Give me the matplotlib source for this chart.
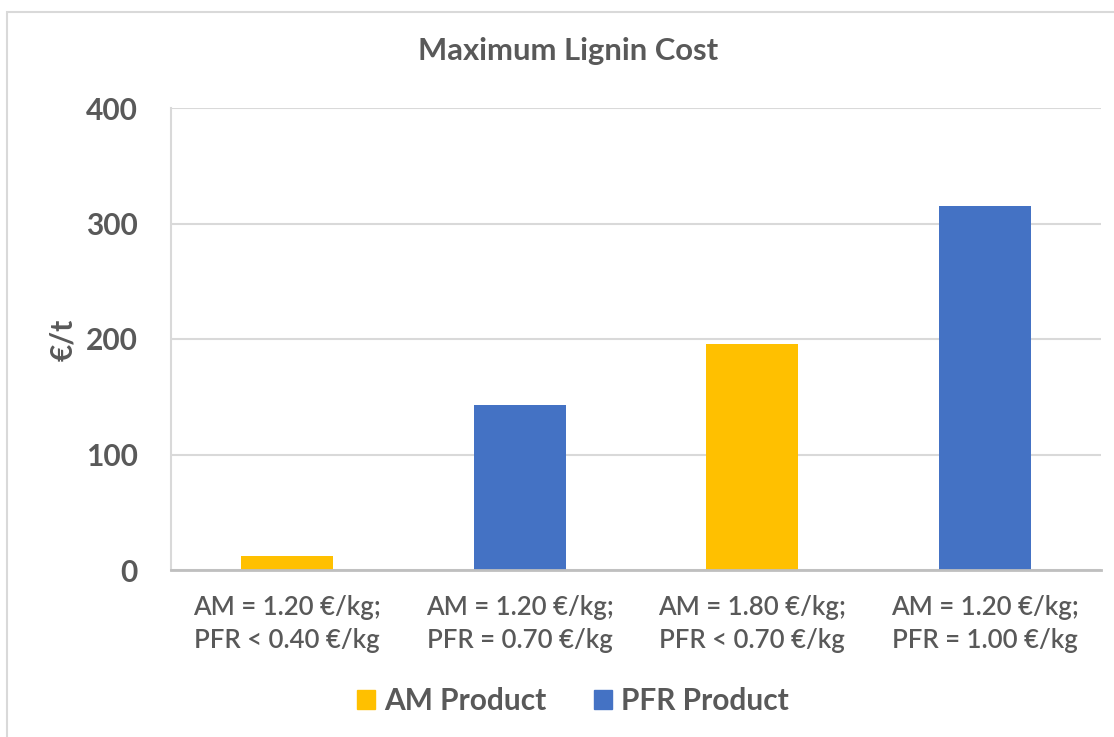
import matplotlib
matplotlib.use("Agg")
import matplotlib.pyplot as plt
from matplotlib.patches import Rectangle
import numpy as np

categories = ["AM = 1.20 €/kg;\nPFR < 0.40 €/kg",
              "AM = 1.20 €/kg;\nPFR = 0.70 €/kg",
              "AM = 1.80 €/kg;\nPFR < 0.70 €/kg",
              "AM = 1.20 €/kg;\nPFR = 1.00 €/kg"]
values = [12, 143, 196, 315]
series = ["AM Product", "PFR Product", "AM Product", "PFR Product"]
series_names = ["AM Product", "PFR Product"]
series_colors = {"AM Product": "#FFC000", "PFR Product": "#4472C4"}
yticks = [0, 100, 200, 300, 400]

TXT = "#595959"
plt.rcParams['font.family'] = ['Lato', 'DejaVu Sans']

fig = plt.figure(figsize=(11.14, 7.37), dpi=100)
# outer chart border
fig.patches.append(Rectangle((7/1114, -0.05), 1.2, (737-12)/737 + 0.05,
                             transform=fig.transFigure, fill=False,
                             edgecolor="#D9D9D9", linewidth=1.5))

ax = fig.add_axes([171/1114, (737-570)/737, (1101-171)/1114, (570-108)/737])
x = np.arange(len(categories))
for xi, v, s in zip(x, values, series):
    ax.bar(xi, v, width=0.395, color=series_colors[s], zorder=3)

ax.set_xlim(-0.5, len(categories) - 0.5)
ax.set_ylim(0, 400)
ax.set_yticks(yticks)
ax.set_yticklabels([str(t) for t in yticks], fontsize=21.5, fontweight='bold', color=TXT)
ax.set_xticks(x)
ax.set_xticklabels(categories, fontsize=18.5, color=TXT, linespacing=1.4, fontweight='semibold')
ax.tick_params(axis='y', length=0, pad=24)
ax.tick_params(axis='x', length=0, pad=18)
ax.grid(axis='y', color="#D9D9D9", linewidth=1.5, zorder=0)
for sp in ["top", "right"]:
    ax.spines[sp].set_visible(False)
ax.spines["left"].set_color("#D9D9D9")
ax.spines["left"].set_linewidth(1.5)
ax.spines["bottom"].set_color("#BFBFBF")
ax.spines["bottom"].set_linewidth(2)
ax.spines["bottom"].set_zorder(4)

fig.text(63/1114, 1 - 340/737, "€/t", rotation=90, ha='center', va='center',
         fontsize=21.5, fontweight='bold', color=TXT)
fig.text(568/1114, 1 - 51/737, "Maximum Lignin Cost", ha='center', va='center',
         fontsize=22.3, fontweight='bold', color=TXT)

handles = [Rectangle((0, 0), 1, 1, color=series_colors[n]) for n in series_names]
leg = fig.legend(handles, series_names, loc='center', bbox_to_anchor=(573/1114, 1 - 701/737),
                 ncol=2, frameon=False, fontsize=21.5, handlelength=0.6, handleheight=0.6,
                 handletextpad=0.3, columnspacing=1.6)
for t in leg.get_texts():
    t.set_color(TXT)
    t.set_fontweight('bold')

fig.savefig("out.png", dpi=100)
